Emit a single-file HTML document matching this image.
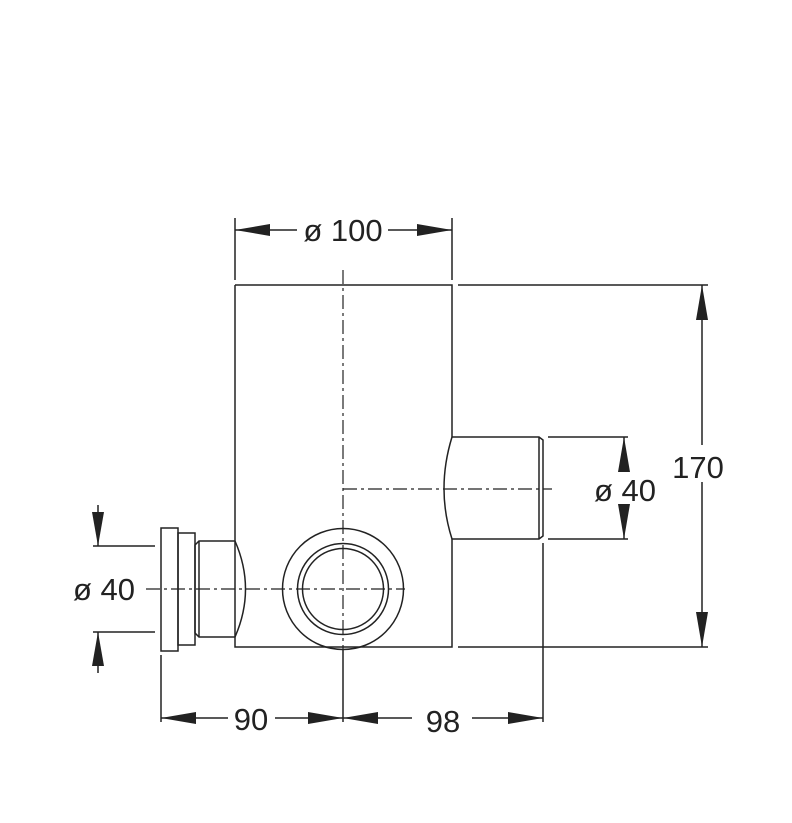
<!DOCTYPE html>
<html><head><meta charset="utf-8"><style>
html,body{margin:0;padding:0;background:#fff;}
svg{display:block;}
text{font-family:"Liberation Sans",Arial,sans-serif;font-size:31px;fill:#222;}
</style></head><body>
<svg width="792" height="823" viewBox="0 0 792 823" xmlns="http://www.w3.org/2000/svg">
<g stroke="#222" stroke-width="1.5" fill="none">
<path d="M235 285 H452 V437 M452 539 V647 H235 V541 M235 285 V541"/>
<path d="M452 437 H539 L543 440 V536 L539 539 H452 M539 437 V539"/>
<path d="M452 437 Q436 489 452 539"/>
<path d="M235 541 H199 L195 545 V633 L199 637 H235"/>
<path d="M235 541 Q256 589 235 637"/>
<path d="M199 541 V637"/>
<rect x="178" y="533" width="17" height="112"/>
<rect x="161" y="528" width="17" height="123"/>
<circle cx="343" cy="589" r="60.5"/>
<circle cx="343" cy="589" r="45.5"/>
<circle cx="343" cy="589" r="40.5"/>
<path d="M235 218 V280 M452 218 V280"/>
<path d="M458 285 H708 M458 647 H708"/>
<path d="M548 437 H628 M548 539 H628"/>
<path d="M93 546 H155 M93 632 H155"/>
<path d="M161 655 V722 M343 650 V722 M543 543 V722"/>
<path d="M235 230 H297 M388 230 H452"/>
<path d="M702 285 V445 M702 482 V647"/>
<path d="M624 437 V472 M624 504 V539"/>
<path d="M98 505 V546 M98 632 V673"/>
<path d="M161 718 H228 M275 718 H343 M343 718 H412 M472 718 H543"/>
</g>
<g stroke="#222" stroke-width="1.2" fill="none" stroke-dasharray="14 4 3 4">
<path d="M343 270 V650"/>
<path d="M343 489 H552"/>
<path d="M146 589 H405"/>
</g>
<g fill="#222">
<polygon points="235,230 270,224 270,236"/>
<polygon points="452,230 417,224 417,236"/>
<polygon points="702,285 696,320 708,320"/>
<polygon points="702,647 696,612 708,612"/>
<polygon points="624,437 618,472 630,472"/>
<polygon points="624,539 618,504 630,504"/>
<polygon points="98,546 92,512 104,512"/>
<polygon points="98,632 92,666 104,666"/>
<polygon points="161,718 196,712 196,724"/>
<polygon points="343,718 308,712 308,724"/>
<polygon points="343,718 378,712 378,724"/>
<polygon points="543,718 508,712 508,724"/>
</g>
<text x="343" y="241" text-anchor="middle">ø 100</text>
<text x="698" y="478" text-anchor="middle">170</text>
<text x="625" y="501" text-anchor="middle">ø 40</text>
<text x="104" y="600" text-anchor="middle">ø 40</text>
<text x="251" y="730" text-anchor="middle">90</text>
<text x="443" y="732" text-anchor="middle">98</text>
</svg>
</body></html>
